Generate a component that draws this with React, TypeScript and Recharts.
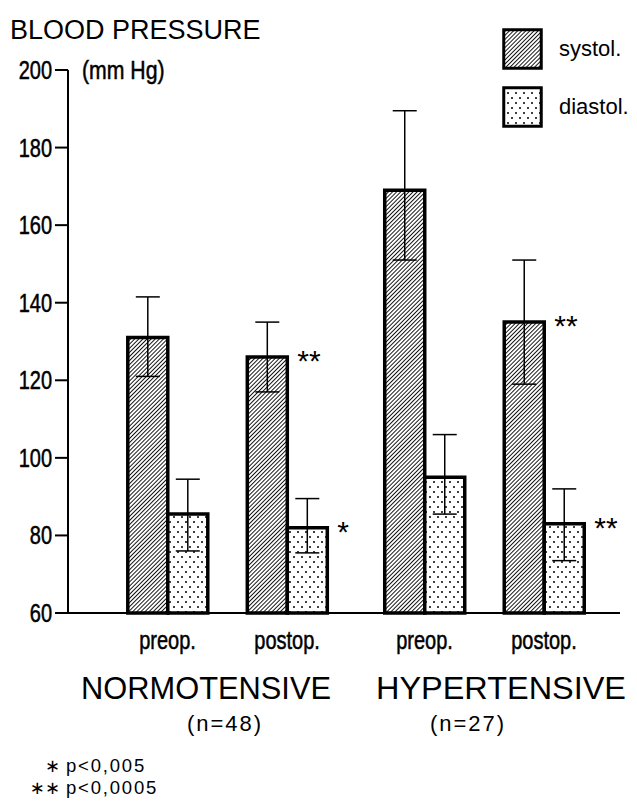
import React from 'react';
import { BarChart, Bar, XAxis, YAxis, ErrorBar, LabelList, Legend } from 'recharts';

const categories = ['preop.', 'postop.', 'preop.', 'postop.'];
const groupIndex = [0, 0, 1, 1];
const groupNames = ['NORMOTENSIVE', 'HYPERTENSIVE'];
const groupCounts = ['(n=48)', '(n=27)'];
const legendNames = ['systol.', 'diastol.'];
const systol = [131, 126, 169, 135];
const systolLow = [121, 117, 151, 119];
const systolHigh = [141.5, 135, 189.5, 151];
const diastol = [85.5, 82, 95, 83];
const diastolLow = [76, 75.5, 85.5, 73.5];
const diastolHigh = [94.5, 89.5, 106, 92];
const systolSig = ['', '**', '', '**'];
const diastolSig = ['', '*', '', '**'];
const yTicks = [60, 80, 100, 120, 140, 160, 180, 200];
const footnoteMarks = ['\u2217', '\u2217\u2217'];
const footnoteTexts = ['p<0,005', 'p<0,0005'];

const GROUP_GAP = 0.15;
const positions = categories.map((_, i) => i + GROUP_GAP * groupIndex[i]);

const data = categories.map((c, i) => ({
  pos: positions[i],
  label: c,
  systol: systol[i],
  systolErr: [systol[i] - systolLow[i], systolHigh[i] - systol[i]],
  systolSig: systolSig[i],
  diastol: diastol[i],
  diastolErr: [diastol[i] - diastolLow[i], diastolHigh[i] - diastol[i]],
  diastolSig: diastolSig[i],
}));

const REG = "'Liberation Sans', Arial, sans-serif";
const CONDENSE = 0.8;

const renderSig = (props: any) => {
  const { x, y, width, value } = props;
  if (!value) return null;
  return (
    <text x={Number(x) + Number(width) + 10} y={Number(y) + 14} fontFamily={REG} fontSize={30} fill="#000">
      {value}
    </text>
  );
};

const XTick = (props: any) => {
  const { x, y, payload } = props;
  const idx = positions.findIndex((p) => Math.abs(p - payload.value) < 1e-6);
  return (
    <text
      transform={`translate(${x},${Number(y) + 36}) scale(${CONDENSE},1)`}
      textAnchor="middle"
      fontFamily={REG}
      fontSize={25}
      fill="#000"
      stroke="#000"
      strokeWidth={0.5}
    >
      {idx >= 0 ? categories[idx] : ''}
    </text>
  );
};

const YTick = (props: any) => {
  const { x, y, payload } = props;
  return (
    <text
      transform={`translate(${x},${Number(y) + 9}) scale(${CONDENSE},1)`}
      textAnchor="end"
      fontFamily={REG}
      fontSize={25}
      fill="#000"
      stroke="#000"
      strokeWidth={0.5}
    >
      {payload.value}
    </text>
  );
};

const renderLegend = (props: any) => {
  const payload = [...(props.payload || [])].sort(
    (a: any, b: any) => legendNames.indexOf(a.value) - legendNames.indexOf(b.value)
  );
  return (
    <div style={{ display: 'flex', flexDirection: 'column' }}>
      {payload.map((e: any, i: number) => (
        <div key={i} style={{ display: 'flex', alignItems: 'center', height: 58 }}>
          <svg width={41} height={42} style={{ display: 'block' }}>
            <rect x={1.75} y={1.75} width={37.5} height={38.5} fill={e.color} stroke="#000" strokeWidth={3} />
          </svg>
          <span style={{ marginLeft: 16, fontFamily: REG, fontSize: 22, color: '#000', lineHeight: '22px' }}>{e.value}</span>
        </div>
      ))}
    </div>
  );
};

export default function App() {
  return (
    <div style={{ position: 'absolute', left: 0, top: 0, width: 637, height: 801, background: '#fff' }}>
      <svg width={0} height={0} style={{ position: 'absolute' }}>
        <defs>
          <pattern id="hatch" patternUnits="userSpaceOnUse" width={2.9} height={2.9} patternTransform="rotate(45)">
            <rect width={2.9} height={2.9} fill="#fff" />
            <line x1={1.45} y1={0} x2={1.45} y2={2.9} stroke="#000" strokeWidth={0.9} />
          </pattern>
          <pattern id="dots" patternUnits="userSpaceOnUse" width={8} height={10}>
            <rect width={8} height={10} fill="#fff" />
            <circle cx={2} cy={2} r={1} fill="#000" />
            <circle cx={6} cy={7} r={1} fill="#000" />
          </pattern>
        </defs>
      </svg>
      <BarChart width={637} height={801} data={data} margin={{ top: 70, right: 17, bottom: 0, left: 0 }} barGap={0}>
        <XAxis
          type="number"
          dataKey="pos"
          domain={[-0.833, 3.786]}
          allowDataOverflow
          ticks={positions}
          interval={0}
          tickLine={false}
          tickSize={0}
          tickMargin={0}
          height={188}
          axisLine={{ stroke: '#000', strokeWidth: 2 }}
          tick={<XTick />}
        />
        <YAxis
          type="number"
          domain={[60, 200]}
          ticks={yTicks}
          interval={0}
          width={68}
          tickSize={13}
          tickMargin={3}
          axisLine={{ stroke: '#000', strokeWidth: 2 }}
          tickLine={{ stroke: '#000', strokeWidth: 2 }}
          tick={<YTick />}
        />
        <Legend
          layout="vertical"
          align="center"
          verticalAlign="middle"
          wrapperStyle={{ position: 'absolute', top: 20, left: 502, width: 'auto' }}
          content={renderLegend}
        />
        <Bar dataKey="systol" name="systol." fill="url(#hatch)" stroke="#000" strokeWidth={3.5} barSize={40} isAnimationActive={false}>
          <ErrorBar dataKey="systolErr" width={12} stroke="#000" strokeWidth={1.5} />
          <LabelList dataKey="systolSig" content={renderSig} />
        </Bar>
        <Bar dataKey="diastol" name="diastol." fill="url(#dots)" stroke="#000" strokeWidth={3.5} barSize={40} isAnimationActive={false}>
          <ErrorBar dataKey="diastolErr" width={12} stroke="#000" strokeWidth={1.5} />
          <LabelList dataKey="diastolSig" content={renderSig} />
        </Bar>
      </BarChart>
      <svg width={637} height={801} style={{ position: 'absolute', left: 0, top: 0, pointerEvents: 'none' }}>
        <text x={10} y={39} fontFamily={REG} fontSize={27} fill="#000">BLOOD PRESSURE</text>
        <text
          transform={`translate(82,79) scale(0.85,1)`}
          fontFamily={REG}
          fontSize={25}
          fill="#000"
          stroke="#000"
          strokeWidth={0.5}
        >
          (mm Hg)
        </text>
        <text x={81} y={699} fontFamily={REG} fontSize={31} fill="#000" textLength={250} lengthAdjust="spacingAndGlyphs">{groupNames[0]}</text>
        <text x={376} y={699} fontFamily={REG} fontSize={31} fill="#000" textLength={250} lengthAdjust="spacingAndGlyphs">{groupNames[1]}</text>
        <text x={225} y={731} textAnchor="middle" fontFamily={REG} fontSize={22} letterSpacing={2} fill="#000">{groupCounts[0]}</text>
        <text x={468} y={731} textAnchor="middle" fontFamily={REG} fontSize={22} letterSpacing={2} fill="#000">{groupCounts[1]}</text>
        {footnoteMarks.map((m, i) => (
          <g key={i}>
            <text x={60} y={772 + i * 22} textAnchor="end" fontFamily="'DejaVu Sans', sans-serif" fontSize={18} fill="#000">{m}</text>
            <text x={66} y={772 + i * 22} fontFamily={REG} fontSize={18.5} letterSpacing={1.8} fill="#000">{footnoteTexts[i]}</text>
          </g>
        ))}
      </svg>
    </div>
  );
}
